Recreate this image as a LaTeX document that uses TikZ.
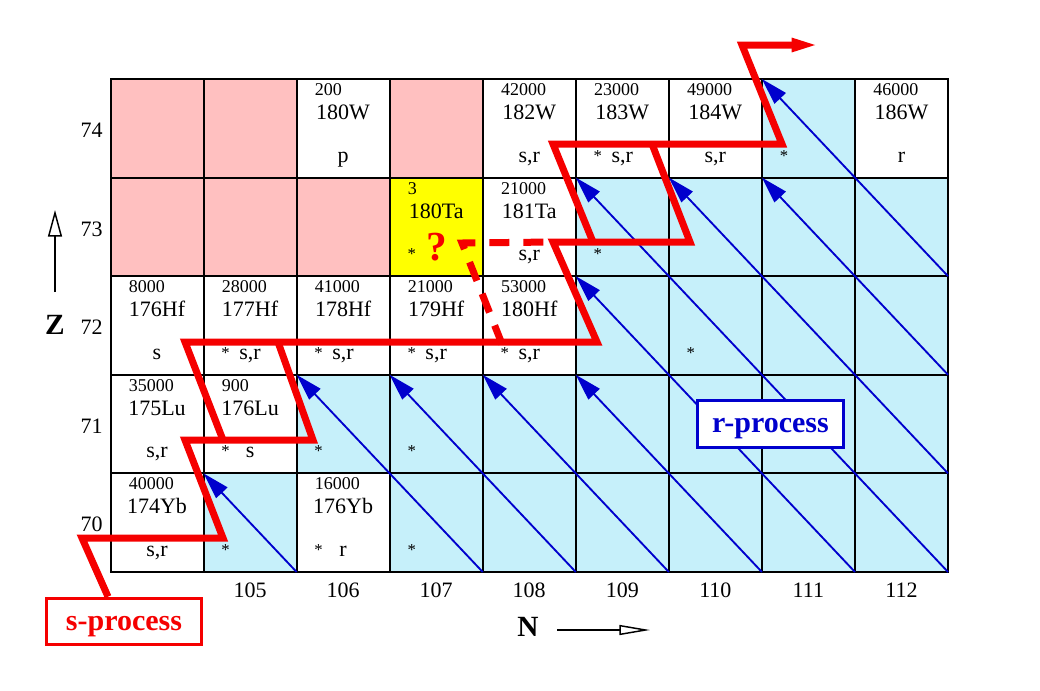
\documentclass[tikz,border=0pt]{standalone}
\usepackage{fontspec}
\setmainfont{Liberation Serif}
\usetikzlibrary{arrows.meta,calc}
\definecolor{pinkbg}{RGB}{255,192,192}
\definecolor{cyanbg}{RGB}{198,240,250}
\definecolor{yellowbg}{RGB}{255,255,0}
\definecolor{sred}{RGB}{245,0,0}
\definecolor{rblue}{RGB}{0,0,205}
\newcommand{\isotope}[4]{%
  \node[smallnum] (ab-#1-#2) at ({110.5+93.06*#1+18},{79+98.6*#2+16.5}) {#3};
  \node[biglabel] (nm-#1-#2) at ({110.5+93.06*#1+46.5},{79+98.6*#2+40.5}) {#4};}
\newcommand{\process}[3]{%
  \node[botlabel] (pr-#1-#2) at ({110.5+93.06*#1+46.5},{79+98.6*#2+83}) {#3};}
\newcommand{\astmark}[2]{%
  \node[astlabel] (as-#1-#2) at ({110.5+93.06*#1+22},{79+98.6*#2+82}) {*};}
\begin{document}
\begin{tikzpicture}[x=0.75pt,y=-0.75pt,
  gridline/.style={line width=1.5pt,black},
  decayline/.style={line width=1.4pt,rblue},
  decayarrow/.style={decayline,-{Triangle[length=20pt,width=11.5pt]}},
  spath/.style={line width=5.25pt,sred,line join=miter},
  sdash/.style={spath,dash pattern=on 15pt off 10.5pt},
  smallnum/.style={anchor=base west,inner sep=0pt,font=\fontsize{13.5}{13.5}\selectfont},
  biglabel/.style={anchor=base,inner sep=0pt,font=\fontsize{16.5}{16.5}\selectfont},
  botlabel/.style={anchor=base,inner sep=0pt,font=\fontsize{16.5}{16.5}\selectfont},
  astlabel/.style={anchor=base,inner sep=0pt,font=\fontsize{12.5}{12.5}\selectfont},
  axislabel/.style={anchor=base,inner sep=0pt,font=\fontsize{16.5}{16.5}\selectfont},
  axistitle/.style={anchor=base,inner sep=0pt,font=\bfseries\fontsize{22}{22}\selectfont},
  axisarrow/.style={line width=1.1pt,black},
  procbox/.style={draw,line width=2.25pt,fill=white,inner sep=0pt,
    text height=15pt,text depth=2.25pt,
    font=\bfseries\fontsize{22.5}{22.5}\selectfont}
]
\useasboundingbox (0,0) rectangle (1040,690);
\fill[white] (0,0) rectangle (1040,690);
% grid corners
\foreach \i in {0,...,9}
  \foreach \j in {0,...,5}
    \coordinate (g\i-\j) at ({110.5+93.06*\i},{79+98.6*\j});
% cell fills
\foreach \c/\r in {0/0,1/0,3/0,0/1,1/1,2/1}
  \fill[pinkbg] ({110.5+93.06*\c},{79+98.6*\r}) rectangle ++(93.06,98.6);
\fill[yellowbg] (g3-1) rectangle (g4-2);
\foreach \c/\r in {7/0,5/1,6/1,7/1,8/1,5/2,6/2,7/2,8/2,
  2/3,3/3,4/3,5/3,6/3,7/3,8/3,1/4,3/4,4/4,5/4,6/4,7/4,8/4}
  \fill[cyanbg] ({110.5+93.06*\c},{79+98.6*\r}) rectangle ++(93.06,98.6);
% grid
\foreach \i in {1,...,8} \draw[gridline] (g\i-0) -- (g\i-5);
\foreach \j in {1,...,4} \draw[gridline] (g0-\j) -- (g9-\j);
\draw[gridline] (g0-0) rectangle (g9-5);
% beta-decay lines
\draw[decayarrow] (g2-5) -- (g1-4);
\draw[decayarrow] (g4-5) -- (g2-3);
\draw[decayarrow] (g5-5) -- (g3-3);
\draw[decayarrow] (g6-5) -- (g4-3);
\draw[decayarrow] (g7-5) -- (g5-3);
\draw[decayarrow] (g8-5) -- (g5-2);
\draw[decayarrow] (g9-5) -- (g5-1);
\draw[decayarrow] (g9-4) -- (g6-1);
\draw[decayarrow] (g9-3) -- (g7-1);
\draw[decayarrow] (g9-2) -- (g7-0);
% isotopes
\isotope{2}{0}{200}{180W}   \process{2}{0}{p}
\isotope{4}{0}{42000}{182W} \process{4}{0}{s,r}
\isotope{5}{0}{23000}{183W} \process{5}{0}{s,r} \astmark{5}{0}
\isotope{6}{0}{49000}{184W} \process{6}{0}{s,r}
\astmark{7}{0}
\isotope{8}{0}{46000}{186W} \process{8}{0}{r}
\isotope{3}{1}{3}{180Ta}    \astmark{3}{1}
\isotope{4}{1}{21000}{181Ta} \process{4}{1}{s,r}
\astmark{5}{1}
\isotope{0}{2}{8000}{176Hf}  \process{0}{2}{s}
\isotope{1}{2}{28000}{177Hf} \process{1}{2}{s,r} \astmark{1}{2}
\isotope{2}{2}{41000}{178Hf} \process{2}{2}{s,r} \astmark{2}{2}
\isotope{3}{2}{21000}{179Hf} \process{3}{2}{s,r} \astmark{3}{2}
\isotope{4}{2}{53000}{180Hf} \process{4}{2}{s,r} \astmark{4}{2}
\astmark{6}{2}
\isotope{0}{3}{35000}{175Lu} \process{0}{3}{s,r}
\isotope{1}{3}{900}{176Lu}   \process{1}{3}{s}   \astmark{1}{3}
\astmark{2}{3} \astmark{3}{3}
\isotope{0}{4}{40000}{174Yb} \process{0}{4}{s,r}
\astmark{1}{4}
\isotope{2}{4}{16000}{176Yb} \process{2}{4}{r}   \astmark{2}{4}
\astmark{3}{4}
% axis labels
\foreach \n [count=\k from 1] in {105,106,107,108,109,110,111,112}
  \node[axislabel] (col\n) at ({110.5+93.06*\k+46.5},597) {\n};
\foreach \z [count=\k from 0] in {74,73,72,71,70}
  \node[axislabel] (row\z) at (91.5,{79+98.6*\k+58.5}) {\z};
\node[axistitle] (zt) at (55,334) {Z};
\coordinate (za) at (55,292);
\coordinate (zb) at (55,210);
\draw[axisarrow,-{Triangle[open,length=20pt,width=10.5pt]}] (za) -- (zb);
\node[axistitle] (nt) at (528,636) {N};
\coordinate (na) at (557,630);
\coordinate (nb) at (650,630);
\draw[axisarrow,-{Triangle[open,length=23pt,width=7.5pt]}] (na) -- (nb);
% process boxes
\node[procbox,draw=sred,text=sred,minimum width=116pt,minimum height=35pt] (sbox) at (124,621.5) {s-process};
% s-process path
\coordinate (s0) at (108,600);
\coordinate (s1) at (82,538);
\coordinate (s2) at (223,538);
\coordinate (s3) at (185,440);
\coordinate (s4) at (313,440);
\coordinate (s5) at (278,342);
\coordinate (t0) at (223,440);
\coordinate (t1) at (185,342);
\coordinate (t2) at (597,342);
\coordinate (t3) at (553,242);
\coordinate (t4) at (690,242);
\coordinate (t5) at (652,144);
\coordinate (u0) at (593,242);
\coordinate (u1) at (553,144);
\coordinate (u2) at (782,144);
\coordinate (u3) at (742,45);
\coordinate (u4) at (821,45);
\coordinate (d0) at (502,344);
\coordinate (d1) at (462,243);
\draw[sdash] (d0) -- (d1) -- (t3);
\draw[spath] (s0 |- sbox.north) -- (s1) -- (s2) -- (s3) -- (s4) -- (s5);
\draw[spath] (t0) -- (t1) -- (t2) -- (t3) -- (t4) -- (t5);
\draw[spath,-{Triangle[length=22pt,width=9pt]}] (u0) -- (u1) -- (u2) -- (u3) -- (u4);
\node[anchor=base,inner sep=0pt,text=sred,font=\bfseries\fontsize{31}{31}\selectfont] (qm) at (437,260) {?};
\node[procbox,draw=rblue,text=rblue,minimum width=110pt,minimum height=35.5pt] (rbox) at (770.5,424) {r-process};
\end{tikzpicture}
\end{document}
